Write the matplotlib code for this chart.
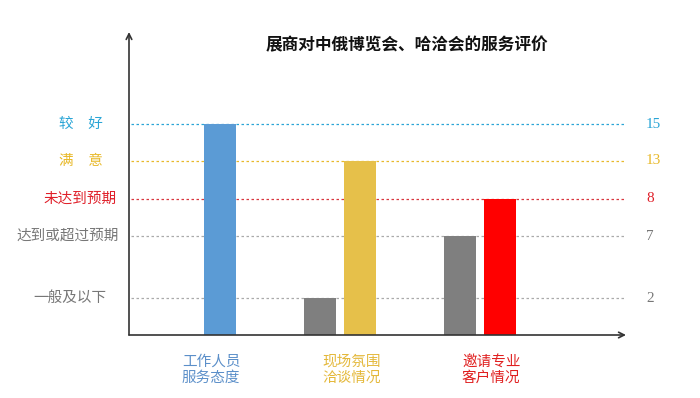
import numpy as np
import matplotlib
matplotlib.use("Agg")
import matplotlib.pyplot as plt

plt.rcParams['font.family'] = ['Noto Sans CJK SC', 'DejaVu Sans']

title = "展商对中俄博览会、哈洽会的服务评价"
categories = ["工作人员\n服务态度", "现场氛围\n洽谈情况", "邀请专业\n客户情况"]
cat_colors = ["#5b8fc9", "#e4b83a", "#e02020"]

# two bars per group: grey = 达到/一般 level, coloured = rating level
grey_vals = [0, 2, 7]
color_vals = [15, 13, 8]
bar_colors = ["#5b9bd5", "#e6c04a", "#ff0000"]

level_vals = [15, 13, 8, 7, 2]
level_names = ["较　好", "满　意", "未达到预期", "达到或超过预期", "一般及以下"]
level_text_colors = ["#2aa5d6", "#e8b92a", "#e0202a", "#777777", "#777777"]
level_line_colors = ["#2aa5d6", "#e8b92a", "#d9363e", "#aaaaaa", "#aaaaaa"]
# horizontal centre of each left label, in pixels
label_cx = [81, 81, 80, 68, 70]

# uneven level spacing used in the picture
scale_v = [0, 2, 7, 8, 13, 15, 20]
scale_h = [0, 37, 99, 136, 174, 211, 303]


def fwd(v):
    return np.interp(v, scale_v, scale_h)


def inv(h):
    return np.interp(h, scale_h, scale_v)


fig = plt.figure(figsize=(7, 3.98), dpi=100)
ax_left, ax_w = 129, 497
ax = fig.add_axes([ax_left / 700, 63 / 398, ax_w / 700, 303 / 398])
ax.set_yscale('function', functions=(fwd, inv))
ax.set_ylim(0, 20)
ax.set_xlim(-0.507, 3.043)

x = np.arange(len(categories))
w = 0.23
off = 0.143
ax.bar(x - off, grey_vals, width=w, color="#7f7f7f", zorder=3)
ax.bar(x + off, color_vals, width=w, color=bar_colors, zorder=3)

for v, name, tc, lc, cx in zip(level_vals, level_names, level_text_colors, level_line_colors, label_cx):
    ax.axhline(v, xmin=0.005, xmax=1.0, color=lc, lw=0.9, ls=(0, (2, 2)), zorder=1)
    ax.text((cx - ax_left) / ax_w, v, name, transform=ax.get_yaxis_transform(), ha='center', va='center',
            fontsize=10.5, color=tc)
    ax.text(1.04, v, str(v), transform=ax.get_yaxis_transform(), ha='left', va='center',
            fontsize=11, color=tc, family='Liberation Serif')

for xi, cat, c in zip(x, categories, cat_colors):
    ax.text(xi + 0.08, -0.065, cat, transform=ax.get_xaxis_transform(), ha='center', va='top',
            fontsize=10.5, color=c, linespacing=1.15)

ax.text(0.56, 0.955, title, transform=ax.transAxes, ha='center', va='center',
        fontsize=12, fontweight='bold', color="#111111")

for s in ax.spines.values():
    s.set_visible(False)
ax.set_xticks([])
ax.set_yticks([])
ax.minorticks_off()

ax.annotate("", xy=(0, 1), xytext=(0, 0), xycoords='axes fraction',
            arrowprops=dict(arrowstyle='->', color="#333333", lw=1.2, shrinkA=0, shrinkB=0))
ax.annotate("", xy=(1, 0), xytext=(0, 0), xycoords='axes fraction',
            arrowprops=dict(arrowstyle='->', color="#333333", lw=1.2, shrinkA=0, shrinkB=0))

fig.savefig("out.png", dpi=100)
